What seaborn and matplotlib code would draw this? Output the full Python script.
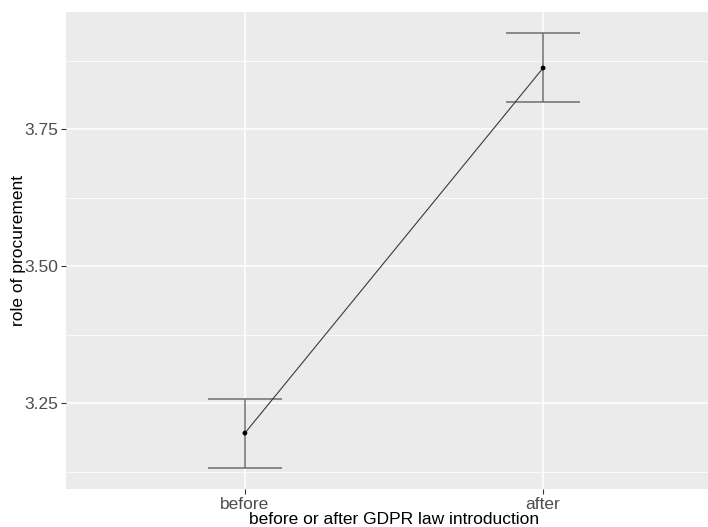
import numpy as np
import pandas as pd
import matplotlib
matplotlib.use("Agg")
import matplotlib.pyplot as plt
from matplotlib.ticker import MultipleLocator
import seaborn as sns

# data
periods = ["before", "after"]
means = [3.196, 3.862]
lower = [3.1325, 3.800]
upper = [3.258, 3.925]

df = pd.DataFrame({"period": periods, "mean": means, "lower": lower, "upper": upper})

sns.set_theme(style="darkgrid", rc={
    "axes.facecolor": "#EBEBEB",
    "grid.color": "white",
    "axes.edgecolor": "#EBEBEB",
})
plt.rcParams["font.family"] = ["Liberation Sans", "DejaVu Sans"]

fig = plt.figure(figsize=(7.08, 5.27), dpi=100)
ax = fig.add_axes([0.0932, 0.0721, 0.9266, 0.905])

pos = np.arange(len(periods))
cap_w = 0.125

# error bars (ggplot-like geom_errorbar, width 0.25)
ax.vlines(pos, df["lower"], df["upper"], color="#6E6E6E", lw=1.1, zorder=3)
ax.hlines(df["lower"], pos - cap_w, pos + cap_w, color="#6E6E6E", lw=1.1, zorder=3)
ax.hlines(df["upper"], pos - cap_w, pos + cap_w, color="#6E6E6E", lw=1.1, zorder=3)

# mean line and points
sns.lineplot(x=pos, y=df["mean"], color="#3A3A3A", lw=0.8, ax=ax, zorder=4)
sns.scatterplot(x=pos, y=df["mean"], color="black", s=12, edgecolor="none", ax=ax, zorder=5)

ax.set_xlim(-0.6, 1.6)
ax.set_ylim(3.094, 3.964)
ax.set_xticks(pos)
ax.set_xticklabels(periods)
ax.yaxis.set_major_locator(MultipleLocator(0.25))
ax.yaxis.set_major_formatter(matplotlib.ticker.FormatStrFormatter("%.2f"))
ax.yaxis.set_minor_locator(MultipleLocator(0.125))
ax.xaxis.set_minor_locator(matplotlib.ticker.NullLocator())
ax.grid(which="major", color="white", lw=1.1)
ax.grid(which="minor", axis="y", color="white", lw=0.55)

ax.tick_params(axis="both", which="major", length=3.5, width=0.8, color="#333333",
               labelcolor="#4D4D4D", labelsize=12.5, pad=2, left=True, bottom=True)
ax.tick_params(axis="both", which="minor", length=0)

ax.set_xlabel("before or after GDPR law introduction", fontsize=12.5, color="black", labelpad=0)
ax.set_ylabel("role of procurement", fontsize=12.5, color="black")
ax.yaxis.set_label_coords(-0.061, 0.5)

for s in ax.spines.values():
    s.set_visible(False)

fig.savefig("out.png", dpi=100)
